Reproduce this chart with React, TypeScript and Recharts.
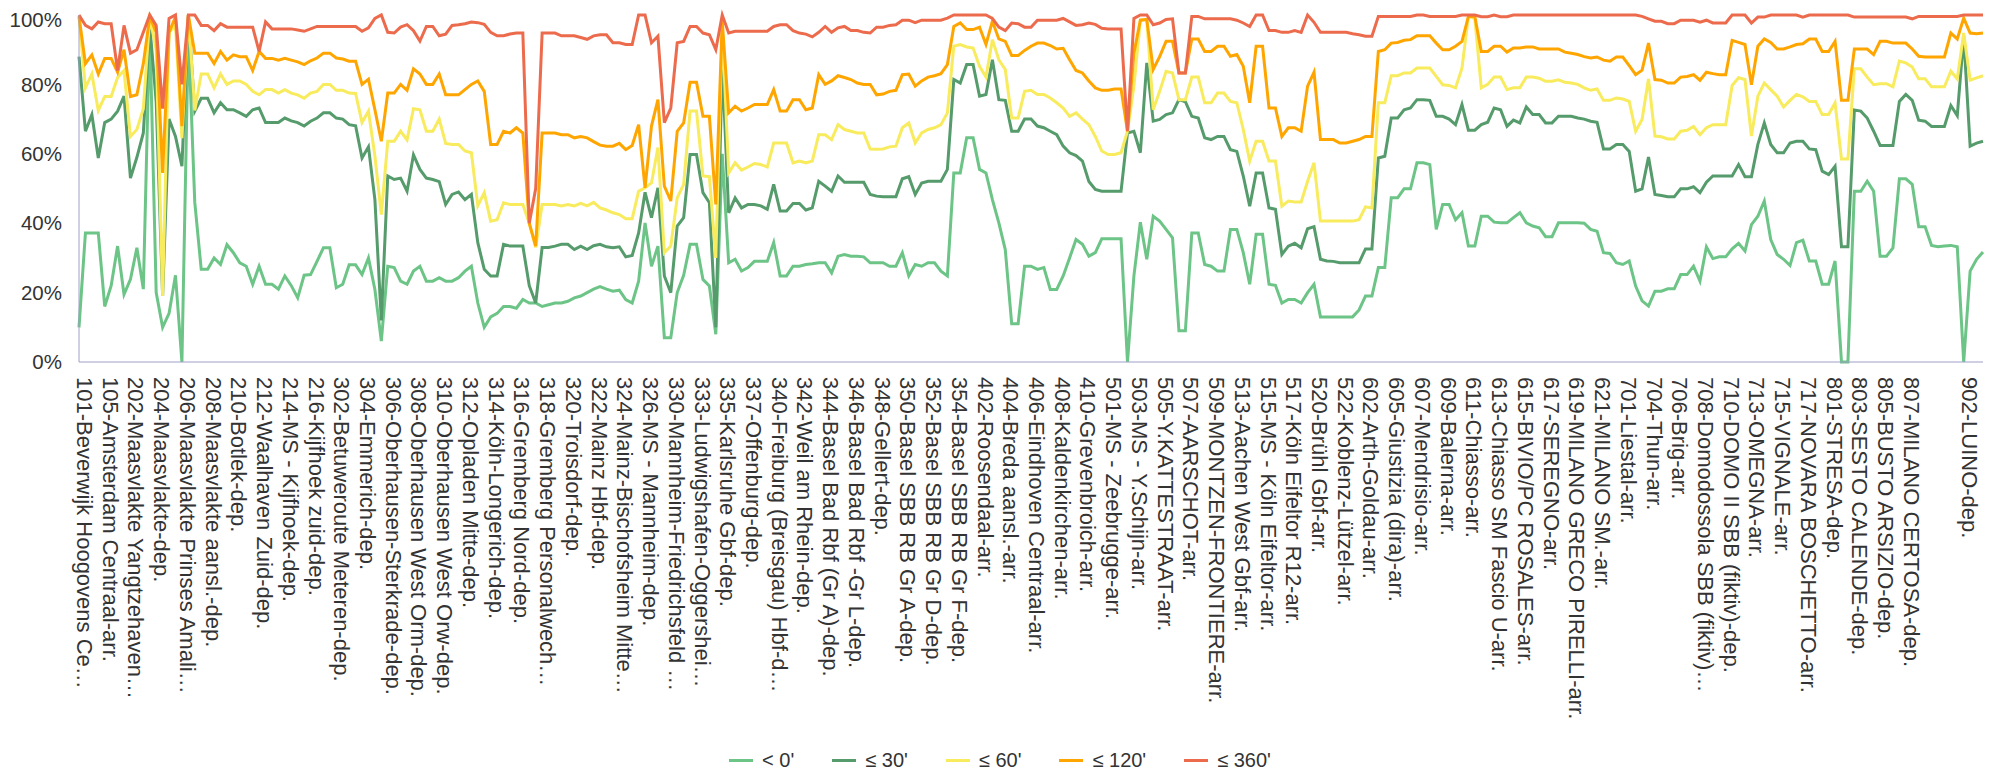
import { LineChart, Line, XAxis, YAxis } from 'recharts';

// Share of trains per punctuality band, one point per timetable point
const tickLabels = [
  '101-Beverwijk Hoogovens Ce…', '105-Amsterdam Centraal-arr.', '202-Maasvlakte Yangtzehaven…', '204-Maasvlakte-dep.',
  '206-Maasvlakte Prinses Amali…', '208-Maasvlakte aansl.-dep.', '210-Botlek-dep.', '212-Waalhaven Zuid-dep.',
  '214-MS - Kijfhoek-dep.', '216-Kijfhoek zuid-dep.', '302-Betuweroute Meteren-dep.', '304-Emmerich-dep.',
  '306-Oberhausen-Sterkrade-dep.', '308-Oberhausen West Orm-dep.', '310-Oberhausen West Orw-dep.', '312-Opladen Mitte-dep.',
  '314-Köln-Longerich-dep.', '316-Gremberg Nord-dep.', '318-Gremberg Personalwech…', '320-Troisdorf-dep.',
  '322-Mainz Hbf-dep.', '324-Mainz-Bischofsheim Mitte…', '326-MS - Mannheim-dep.', '330-Mannheim-Friedrichsfeld …',
  '333-Ludwigshafen-Oggershei…', '335-Karlsruhe Gbf-dep.', '337-Offenburg-dep.', '340-Freiburg (Breisgau) Hbf-d…',
  '342-Weil am Rhein-dep.', '344-Basel Bad Rbf (Gr A)-dep.', '346-Basel Bad Rbf -Gr L-dep.', '348-Gellert-dep.',
  '350-Basel SBB RB Gr A-dep.', '352-Basel SBB RB Gr D-dep.', '354-Basel SBB RB Gr F-dep.', '402-Roosendaal-arr.',
  '404-Breda aansl.-arr.', '406-Eindhoven Centraal-arr.', '408-Kaldenkirchen-arr.', '410-Grevenbroich-arr.',
  '501-MS - Zeebrugge-arr.', '503-MS - Y.Schijn-arr.', '505-Y.KATTESTRAAT-arr.', '507-AARSCHOT-arr.',
  '509-MONTZEN-FRONTIERE-arr.', '513-Aachen West Gbf-arr.', '515-MS - Köln Eifeltor-arr.', '517-Köln Eifeltor R12-arr.',
  '520-Brühl Gbf-arr.', '522-Koblenz-Lützel-arr.', '602-Arth-Goldau-arr.', '605-Giustizia (dira)-arr.',
  '607-Mendrisio-arr.', '609-Balerna-arr.', '611-Chiasso-arr.', '613-Chiasso SM Fascio U-arr.',
  '615-BIVIO/PC ROSALES-arr.', '617-SEREGNO-arr.', '619-MILANO GRECO PIRELLI-arr.', '621-MILANO SM.-arr.',
  '701-Liestal-arr.', '704-Thun-arr.', '706-Brig-arr.', '708-Domodossola SBB (fiktiv)…',
  '710-DOMO II SBB (fiktiv)-dep.', '713-OMEGNA-arr.', '715-VIGNALE-arr.', '717-NOVARA BOSCHETTO-arr.',
  '801-STRESA-dep.', '803-SESTO CALENDE-dep.', '805-BUSTO ARSIZIO-dep.', '807-MILANO CERTOSA-dep.',
  '902-LUINO-dep.',
];
const labelEvery = 4;
const lastLabelAt = 293;

const lt0 = [
  10, 37.2, 37.2, 37.2, 16, 22, 33.4, 19.5, 23.8, 32.9,
  21, 97, 20, 10, 14, 25, 0, 95, 46, 26.7,
  26.7, 30, 28.1, 33.8, 31.5, 28.6, 27.6, 22.4, 27.6, 22.4,
  22.4, 21, 24.8, 22, 18.5, 25, 25.2, 29, 32.9, 32.9,
  21.4, 22.4, 28, 28, 25.2, 30, 20.9, 6, 27.6, 27.2,
  23.3, 22.4, 26.2, 27.6, 23.3, 23.3, 24.3, 23.3, 23.3, 24.3,
  26.2, 27.6, 17, 10, 13, 14, 16, 16, 15.5, 18,
  17, 17, 16, 16.5, 17, 17, 17.5, 18.5, 19, 20,
  21, 21.7, 21, 20.4, 20.7, 18, 17, 23.3, 40.1, 27.6,
  33.4, 7, 7, 20, 25, 33.9, 33.9, 23.8, 21.9, 8,
  60, 28.6, 29.6, 26.2, 27.2, 29, 29, 29, 34.4, 24.8,
  24.8, 27.6, 27.6, 28.1, 28.3, 28.6, 28.6, 25.7, 30.5, 31,
  30.5, 30.5, 30.3, 28.6, 28.6, 28.6, 27.6, 27.6, 31.5, 24.8,
  28.1, 27.6, 28.6, 28.6, 26.2, 24.8, 54.5, 54.5, 64.6, 64.6,
  55.5, 54.5, 46.8, 40.1, 32.4, 11, 11, 27.6, 27.6, 26.7,
  27.2, 20.9, 20.9, 24.8, 30, 35.3, 33.9, 30.5, 31.5, 35.5,
  35.5, 35.5, 35.5, 0, 24.8, 40.3, 29.6, 42, 40.6, 38.2,
  35.8, 9, 9, 37.2, 37.2, 28.1, 27.6, 26.2, 26.2, 38.2,
  38.2, 31.5, 22.4, 36.8, 36.8, 22.4, 22.1, 17, 18, 18,
  17, 20, 22.4, 13, 13, 13, 13, 13, 13, 15,
  19, 19, 27.2, 27.2, 47.3, 47.3, 49.9, 49.9, 57.4, 57.4,
  56.9, 38.2, 45.4, 45.4, 41, 43, 33.4, 33.4, 42, 42,
  40.3, 40.1, 40.1, 41.6, 43, 40.1, 39.2, 38.7, 36.1, 36.1,
  40.1, 40.1, 40.1, 40.1, 40, 38.2, 37.7, 31.5, 31.3, 28.6,
  28.1, 29.1, 21.9, 17.6, 16.1, 20.4, 20.4, 21.1, 21.1, 25.2,
  25.2, 27.6, 23.3, 33.2, 29.8, 30.3, 30.3, 32.6, 34.2, 32,
  39.6, 42, 46.4, 35.3, 31, 29.6, 27.8, 34.4, 35.1, 29.1,
  29.1, 22.4, 22.4, 29.1, 0, 0, 49.2, 49.2, 52.1, 49.2,
  30.5, 30.5, 32.9, 52.8, 52.8, 51.2, 39, 39, 33.6, 33.2,
  33.4, 33.6, 33.2, 0, 26.2, 29.6, 31.7,
];

const le30 = [
  88, 66.5, 71.3, 58.8, 69, 70, 72.3, 76.6, 53, 59,
  66, 97, 75, 19, 70, 65, 56.4, 100, 72.3, 76,
  76, 71.8, 74.7, 72.7, 72.7, 71.8, 70.8, 72.7, 73.2, 69,
  69, 69, 70.3, 69.5, 69, 68, 69.4, 70.3, 71.8, 71.8,
  70.3, 70, 68.4, 68.1, 58.8, 62, 46.8, 12, 53.6, 52.6,
  53, 49.2, 59.7, 55.5, 53, 52.6, 52, 45.4, 48.3, 49,
  46.8, 48.3, 34.4, 26.7, 24.8, 24.8, 33.9, 33.4, 33.4, 33.4,
  22, 17, 33, 33, 33.4, 33.9, 33.9, 32.4, 33.4, 32.4,
  33.5, 33.9, 33.2, 32.9, 33.2, 30.3, 30.7, 37.2, 48.9, 41.6,
  50.2, 24.8, 20, 39.2, 41.6, 59.8, 59.8, 48.8, 45.9, 10,
  86, 43, 47.3, 44.4, 45.4, 45.4, 45, 44, 51.2, 43.5,
  43.5, 45.7, 45.7, 43.8, 44.4, 52.1, 50.7, 49.2, 53.6, 51.8,
  51.8, 51.8, 51.8, 48.3, 47.8, 47.6, 47.6, 47.6, 52.8, 53.4,
  48.3, 51.6, 52.1, 52.1, 52.1, 55.5, 81.4, 80.4, 85.7, 85.7,
  76.6, 77.1, 87.1, 75.6, 75.4, 66.5, 66.5, 70, 70, 68,
  67.5, 66.5, 65.5, 62.2, 60.3, 59.5, 57.9, 52, 49.7, 49.2,
  49.2, 49.2, 49.2, 66, 66.5, 60.3, 86.2, 69.4, 69.9, 71.3,
  71.8, 75.6, 75, 70.8, 70.3, 64.6, 64.1, 65, 65, 61.2,
  60.7, 53.6, 44.9, 54.5, 54.5, 44.4, 44, 31, 33.4, 34.2,
  32.9, 38.4, 39, 29.6, 29.1, 29, 28.6, 28.6, 28.6, 28.6,
  32.6, 32.6, 58.8, 59.3, 70.3, 70.3, 72.7, 73.2, 75.6, 75.6,
  75.4, 70.8, 70.8, 70, 68.4, 74.2, 66.8, 66.8, 68.4, 69.1,
  73.2, 72.7, 67.9, 69.7, 68.9, 73.5, 71.3, 71.3, 68.9, 68.9,
  70.8, 70.8, 70.8, 70.3, 70, 69.4, 69.1, 61.4, 61.4, 62.7,
  62.7, 60.7, 49.2, 49.9, 59.1, 48.3, 48, 47.6, 47.6, 49.9,
  49.9, 50.5, 48.8, 51.8, 53.6, 53.6, 53.6, 53.6, 56.9, 53.4,
  53.4, 62.7, 68.9, 62.7, 60.3, 60.3, 63.1, 63.6, 63.6, 61.4,
  61.2, 55, 54, 56.4, 33.2, 33.2, 72.6, 72.3, 70.3, 66.5,
  62.4, 62.4, 62.4, 75.1, 77.1, 75.4, 69.7, 69.4, 67.9, 67.9,
  67.9, 73.9, 71, 93.9, 62.2, 63.1, 63.6,
];

const le60 = [
  99.6, 79, 83, 72.5, 76.5, 76.5, 82, 84, 65, 67,
  73, 99.5, 90, 19, 95, 97, 64.5, 100, 72.5, 83,
  83, 79, 83, 80, 81, 81, 80, 78, 77, 78.5,
  78.5, 77.5, 78.5, 77.5, 77, 76, 77.5, 78, 80, 80,
  78.3, 78.3, 77.5, 77.4, 69, 72.3, 59.4, 42.5, 63.6, 63.6,
  66.5, 64, 73, 72.7, 66.5, 66.5, 70, 63, 62.7, 62.7,
  60.8, 60.3, 45, 48.8, 40.6, 41, 45.9, 45.4, 45.4, 45.4,
  40, 33, 45.4, 45.4, 45.4, 45, 45.4, 45, 45.7, 45,
  46, 44.4, 43.8, 43, 42.5, 41.3, 41.3, 49.2, 50.2, 51.6,
  61.8, 31.5, 33.4, 47.3, 51.2, 72.3, 72.3, 53.6, 53.4, 30,
  96.7, 54.5, 57.4, 55.3, 56.2, 57.2, 56.9, 56.2, 63.1, 63.1,
  63.1, 57.4, 57.9, 57.4, 57.9, 65.5, 65.5, 64.1, 68.4, 67,
  66.5, 66, 66, 61.4, 61.3, 61.4, 62, 62.2, 67.5, 68.9,
  63.1, 66, 67, 67.5, 68.4, 71.8, 91, 91.5, 90.8, 90.5,
  85.2, 82.1, 92.9, 87.1, 84.3, 70.3, 70.3, 78, 78.3, 77.1,
  77.1, 76.1, 74.7, 73.2, 70.8, 71.8, 70, 68.4, 65, 60.8,
  59.8, 59.8, 60.3, 66.5, 79.5, 98.5, 98.7, 72.7, 78, 83.8,
  83.3, 75.6, 75.6, 82.1, 82.1, 74.7, 74.7, 77.5, 77.5, 75.1,
  74.7, 67, 57.9, 63.6, 63.6, 57.9, 57.9, 44.9, 46.4, 46.1,
  46.1, 52.1, 57.4, 40.6, 40.6, 40.6, 40.6, 40.6, 40.6, 41,
  44.7, 44.4, 74.7, 74.7, 82.5, 82.5, 83.3, 83.3, 84.7, 84.7,
  84.7, 82.3, 79.9, 79.7, 79, 84.7, 99.6, 99, 79, 80,
  82.1, 82.1, 78.5, 79, 79, 82.1, 82.1, 81.8, 80.9, 80.9,
  81.3, 80.6, 80.4, 80, 79, 78.3, 78.7, 75.4, 75.4, 76.1,
  75.8, 75.1, 66.5, 69.9, 81.6, 65.1, 64.9, 64.3, 64.3, 66.5,
  66.8, 67.9, 65.5, 67.5, 68.4, 68.4, 68.4, 79.7, 81.9, 81.4,
  65.1, 76.6, 80.4, 78.5, 76.6, 73.5, 75.4, 77.1, 76.4, 75.1,
  75.1, 71.3, 71.3, 74.7, 58.5, 58.5, 84.5, 84.5, 82.1, 79.9,
  80.2, 80.2, 79.3, 86.7, 86.2, 85, 81.6, 81.6, 79.3, 79.3,
  79.3, 83.8, 81.6, 94.8, 81.2, 81.9, 82.5,
];

const le120 = [
  99.6, 86, 88.5, 83, 87.5, 87.5, 83.5, 90, 76.5, 77,
  86, 99.5, 95, 54.5, 95, 99.5, 68, 100, 89, 89,
  89, 86, 89.5, 87, 88.5, 88, 88, 84, 89.5, 87.5,
  87.5, 87, 87.5, 87, 86.5, 85.7, 86.8, 87.6, 89, 89,
  87.6, 87.3, 86.7, 86.7, 80, 81.5, 72.7, 63.6, 77.5, 77.5,
  80, 78.3, 84.5, 83, 80, 80, 83, 77, 77, 77,
  78.5, 80, 81, 78, 62.7, 62.7, 66.5, 66, 67.5, 66,
  40, 33.4, 66, 66, 66, 65.5, 65.5, 64.6, 65, 64.6,
  63.5, 62.5, 62.2, 62.2, 63, 61.2, 62.4, 68.4, 50.2, 68,
  75.6, 50.7, 46.4, 66.5, 68.9, 80.6, 80.6, 70.8, 70.8, 45.4,
  98.2, 71.8, 73.7, 72.3, 73.2, 74.2, 74.2, 74.2, 78.5, 72.3,
  72.3, 75.6, 75.6, 72.7, 73.2, 82.8, 80, 81, 82.5, 82,
  81.4, 80.4, 80, 80, 77, 77.2, 78, 78.3, 82.8, 83,
  79.5, 81, 82.1, 82.5, 83.1, 85.7, 96.7, 97.7, 95.8, 95.8,
  96.5, 91.5, 98.2, 93.1, 92.4, 88.3, 88.3, 89.8, 91, 91.9,
  91.9, 91.2, 90.2, 90.4, 87.1, 84, 83.3, 81, 79, 78.3,
  78.3, 78.7, 78.7, 66.5, 89, 98.5, 98.7, 84.3, 88, 92.4,
  92.4, 83.3, 83.3, 93.1, 93.1, 89.5, 89.5, 91, 91, 88.1,
  88.6, 85.2, 74.7, 91, 91, 73.2, 73.2, 65, 67.5, 67.5,
  66.5, 79.5, 83.5, 64.1, 64.1, 64.1, 63.1, 63.1, 63.6, 64.1,
  65, 65, 89.5, 90, 91.9, 92.1, 92.7, 92.9, 94, 94,
  94, 91.9, 90, 90, 91, 92.4, 99.6, 99.6, 89.5, 89.5,
  91, 91, 89.3, 90.5, 90.5, 90.8, 90.8, 90.2, 90.2, 90.2,
  90.2, 89.3, 89, 88.6, 88, 87.6, 87.9, 87, 86.7, 87.9,
  87.9, 85.4, 82.8, 84.1, 91.9, 81.4, 81.2, 80.4, 80.4, 82.1,
  82.3, 82.8, 81.2, 83.5, 83.1, 82.8, 82.8, 92.7, 92.1, 91.5,
  79.9, 91, 93.1, 92.1, 90.2, 90.2, 90.8, 91.5, 91.7, 93.1,
  93.1, 89.5, 89.5, 92.4, 75.4, 75.4, 90.2, 90.2, 90.2, 88.6,
  92.4, 92.4, 91.9, 91.9, 91.9, 90.2, 88.1, 87.9, 87.9, 87.9,
  87.9, 94.8, 93.1, 99.1, 94.8, 94.6, 94.8,
];

const le360 = [
  100, 97, 96, 98, 97.5, 97.5, 84, 97, 89, 90,
  95, 100, 97, 73, 99, 100, 80, 100, 100, 97,
  97, 95.5, 97.5, 96.5, 96.5, 96.5, 96.5, 96.5, 89.5, 98,
  96, 96, 96, 96, 95.7, 95.3, 96, 96.7, 96.7, 96.7,
  96.7, 96.7, 96.7, 96.7, 95.3, 96.3, 99, 100, 95, 94.8,
  96.5, 97.2, 95.5, 92.5, 96.7, 96.7, 94, 94.5, 97, 97.2,
  97.5, 98, 97.8, 97.3, 95, 94, 94, 94.5, 94.8, 94.8,
  40, 50, 94.8, 94.8, 94.8, 94, 94, 94, 93.5, 93,
  94, 94.3, 94.3, 92, 92, 91.5, 91.5, 100, 100, 92,
  93.9, 69, 73.2, 92, 92.4, 96.7, 96.7, 94.8, 94.3, 90,
  100, 94.8, 95.3, 95.3, 95.3, 95.3, 95.3, 95.3, 96.7, 97.2,
  97.2, 95.5, 94.8, 94.5, 93.7, 95, 96.7, 95, 96.3, 96.7,
  95.5, 95.5, 95, 94.8, 96.5, 96.5, 97, 97.2, 98.5, 98.5,
  97.8, 98.5, 98.5, 98.5, 98.5, 99.1, 100, 100, 100, 100,
  100, 100, 99, 96.5, 95.5, 97.7, 97.5, 96.5, 96.5, 98.5,
  98.5, 98.5, 98.5, 99, 98, 97, 97.2, 97.7, 97.3, 96.2,
  96, 96, 96, 66.5, 99, 100, 100, 97.2, 97.7, 98.7,
  98.9, 83.3, 83.3, 99.6, 99.6, 98.9, 98.9, 98.9, 98.9, 98.9,
  98.5, 97.7, 96.7, 100, 100, 95.5, 95.5, 95, 95, 95.5,
  95, 100, 97.9, 95, 95, 95, 95, 95, 94.6, 94.3,
  93.9, 93.9, 99.6, 99.6, 99.6, 99.6, 99.6, 99.6, 100, 100,
  99.6, 99.6, 99.6, 99.6, 99.6, 100, 100, 100, 99.5, 99.5,
  100, 99.5, 99.5, 100, 100, 100, 100, 100, 100, 100,
  100, 100, 100, 100, 100, 100, 100, 100, 100, 100,
  100, 100, 100, 99.6, 98.9, 98.2, 98.2, 97.5, 97.5, 98.5,
  98.5, 98.5, 97.9, 98.5, 97.7, 97.7, 97.7, 100, 100, 100,
  97.7, 99.4, 99.4, 100, 100, 100, 100, 100, 99.4, 100,
  100, 100, 100, 100, 100, 100, 99.4, 99.4, 99.4, 99.4,
  99.4, 99.4, 99.4, 99.4, 99.4, 98.9, 99.6, 99.6, 99.6, 99.6,
  99.6, 99.6, 99.6, 100, 100, 100, 100,
];

const series = [
  { key: 'lt0', name: "< 0'", color: '#6cc486' },
  { key: 'le30', name: "≤ 30'", color: '#559b6b' },
  { key: 'le60', name: "≤ 60'", color: '#f8eb5d' },
  { key: 'le120', name: "≤ 120'", color: '#ffa500' },
  { key: 'le360', name: "≤ 360'", color: '#ec6b4c' },
];

const data = le360.map((_, i) => ({
  idx: i,
  lt0: lt0[i],
  le30: le30[i],
  le60: le60[i],
  le120: le120[i],
  le360: le360[i],
}));

const labelAt = new Map<number, string>();
tickLabels.forEach((label, i) => {
  const pos = i === tickLabels.length - 1 ? lastLabelAt : i * labelEvery;
  labelAt.set(pos, label);
});

const FONT = '"Liberation Sans", Arial, Helvetica, sans-serif';
const AXIS = '#9ea0c6';

function StopTick(props: any) {
  const { x, y, payload } = props;
  const label = labelAt.get(payload.value);
  if (!label) return null;
  return (
    <text
      x={x + 15}
      y={y + 2}
      transform={`rotate(90, ${x}, ${y})`}
      textAnchor="start"
      fontSize={22}
      fontFamily={FONT}
      fill="#333"
    >
      {label}
    </text>
  );
}

export default function App() {
  return (
    <div style={{ position: 'relative', width: 1984, height: 763, fontFamily: FONT }}>
      <LineChart
        width={1984}
        height={740}
        data={data}
        margin={{ top: 7, right: 9, bottom: 5, left: 0 }}
      >
        <XAxis
          dataKey="idx"
          type="category"
          interval={0}
          height={381}
          tickLine={false}
          tickSize={0}
          tickMargin={0}
          axisLine={{ stroke: AXIS }}
          tick={(p: any) => <StopTick {...p} />}
        />
        <YAxis
          domain={[0, 100]}
          ticks={[0, 20, 40, 60, 80, 100]}
          tickFormatter={(v: number) => `${v}%`}
          width={71}
          tickLine={false}
          tickSize={0}
          tickMargin={17}
          axisLine={{ stroke: AXIS }}
          tick={{ fontSize: 20.5, fill: '#333', fontFamily: FONT }}
        />
        {series.map((s) => (
          <Line
            key={s.key}
            dataKey={s.key}
            name={s.name}
            type="linear"
            stroke={s.color}
            strokeWidth={3}
            dot={false}
            activeDot={false}
            isAnimationActive={false}
          />
        ))}
      </LineChart>
      <div
        style={{
          position: 'absolute',
          left: 0,
          top: 741,
          width: 1984,
          height: 22,
          display: 'flex',
          justifyContent: 'center',
          alignItems: 'center',
          gap: 38,
          fontSize: 20,
          color: '#333',
        }}
      >
        {series.map((s) => (
          <div key={s.key} style={{ display: 'flex', alignItems: 'center', gap: 9 }}>
            <span style={{ display: 'inline-block', width: 24, height: 3, background: s.color }} />
            <span>{s.name}</span>
          </div>
        ))}
      </div>
    </div>
  );
}
